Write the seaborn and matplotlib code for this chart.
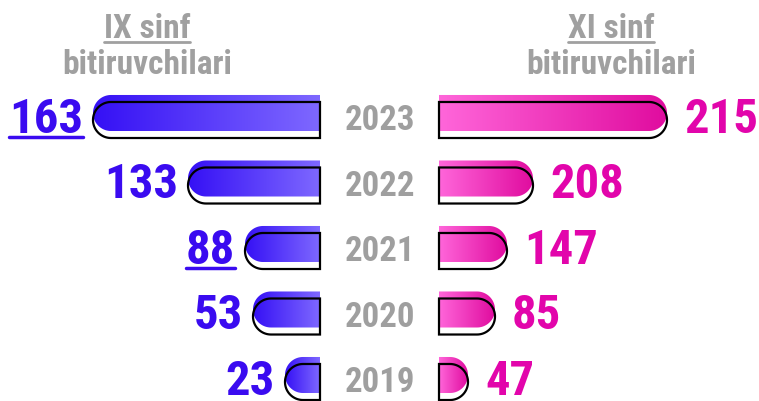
import numpy as np
import pandas as pd
import matplotlib
matplotlib.use("Agg")
import matplotlib.pyplot as plt
import matplotlib.font_manager as fm
from matplotlib.path import Path
from matplotlib.patches import PathPatch
from matplotlib.lines import Line2D
from matplotlib.colors import LinearSegmentedColormap
import seaborn as sns

# ── Data ──────────────────────────────────────
years = ["2023", "2022", "2021", "2020", "2019"]
ix_values = [163, 133, 88, 53, 23]        # IX sinf bitiruvchilari
xi_values = [215, 208, 147, 85, 47]       # XI sinf bitiruvchilari
# drawn bar lengths as they appear in the infographic (not proportional)
ix_length = [227, 132, 75, 67, 35]
xi_length = [228, 94, 68, 56, 29]
ix_underlined = [True, False, True, False, False]

# ── Style ─────────────────────────────────────
BLUE = "#3A0BF0"
PINK = "#E205AB"
GREY = "#9F9F9F"
HEAD = "#A0A0A0"
blue_cmap = LinearSegmentedColormap.from_list("b", ["#3510F5", "#7E68FF"])
pink_cmap = LinearSegmentedColormap.from_list("p", ["#FF66DA", "#E00C9F"])

sns.set_theme(style="white")
names = {f.name for f in fm.fontManager.ttflist}
FONT = next((f for f in ["Roboto Condensed", "Liberation Sans Narrow", "Roboto"] if f in names), "DejaVu Sans")
plt.rcParams["font.family"] = [FONT, "DejaVu Sans"]

GAP = 59.5          # half gap between the two bar columns
OFFSET = 0.107      # outline shift (rows)

fig = plt.figure(figsize=(7.59, 4.01), dpi=100)
ax = fig.add_axes([0, 0, 1, 1])

df = pd.DataFrame({
    "year": years * 2,
    "length": [-l for l in ix_length] + xi_length,
    "side": ["ix"] * len(years) + ["xi"] * len(years),
})
sns.barplot(data=df, x="length", y="year", hue="side", dodge=False,
            width=0.55, ax=ax, legend=False)

ax.set_xlim(-379.5, 379.5)
ax.set_ylim(4.397, -1.725)
ax.axis("off")


def capsule(x0, x1, yc, ry, rx, rounded):
    """Bar path with one semicircular end ('left' or 'right')."""
    rx = min(rx, x1 - x0)
    t = np.linspace(-np.pi / 2, np.pi / 2, 40)
    if rounded == "right":
        cx = x1 - rx
        arc = np.column_stack([cx + rx * np.cos(t), yc + ry * np.sin(t)])
        verts = np.vstack([[x0, yc - ry], arc, [x0, yc + ry], [x0, yc - ry]])
    else:
        cx = x0 + rx
        arc = np.column_stack([cx - rx * np.cos(t), yc - ry * np.sin(t)])
        verts = np.vstack([[x1, yc + ry], arc, [x1, yc - ry], [x1, yc + ry]])
    codes = [Path.MOVETO] + [Path.LINETO] * (len(verts) - 2) + [Path.CLOSEPOLY]
    return Path(verts, codes)


# pixels per data unit to keep the rounded end circular
p0 = ax.transData.transform((0, 0))
p1 = ax.transData.transform((1, 1))
px_x = abs(p1[0] - p0[0])
px_y = abs(p1[1] - p0[1])

grad = np.linspace(0, 1, 256).reshape(1, -1)
for p in list(ax.patches):
    w, h, y0 = p.get_width(), p.get_height(), p.get_y()
    p.set_visible(False)
    if w == 0:
        continue
    yc = y0 + h / 2
    ry = h / 2
    rx = ry * px_y / px_x
    if w < 0:
        x0, x1, side, cmap = -GAP + w, -GAP, "left", blue_cmap
    else:
        x0, x1, side, cmap = GAP, GAP + w, "right", pink_cmap
    fill = PathPatch(capsule(x0, x1, yc, ry, rx, side), facecolor="none",
                     edgecolor="none", zorder=2)
    ax.add_patch(fill)
    im = ax.imshow(grad, extent=[x0, x1, yc + ry, yc - ry], cmap=cmap,
                   aspect="auto", zorder=2, interpolation="bilinear")
    im.set_clip_path(fill)
    ax.add_patch(PathPatch(capsule(x0, x1, yc + OFFSET, ry, rx, side),
                           facecolor="none", edgecolor="black", lw=1.6, zorder=3))

ax.set_xlim(-379.5, 379.5)
ax.set_ylim(4.397, -1.725)

underline = []
for i, year in enumerate(years):
    ax.text(0, i + 0.26, year, ha="center", va="baseline", fontsize=25,
            fontweight="bold", color=GREY)
    t = ax.text(-GAP - ix_length[i] - 10, i + 0.305, str(ix_values[i]),
                ha="right", va="baseline", fontsize=35, fontweight="bold", color=BLUE)
    if ix_underlined[i]:
        underline.append((t, i + 0.305, BLUE, 2.5))
    ax.text(GAP + xi_length[i] + 17, i + 0.305, str(xi_values[i]),
            ha="left", va="baseline", fontsize=35, fontweight="bold", color=PINK)

for x, label in [(-232.5, "IX sinf"), (231.5, "XI sinf")]:
    t = ax.text(x, -1.145, label, ha="center", va="baseline", fontsize=24,
                fontweight="bold", color=HEAD)
    underline.append((t, -1.145, HEAD, 2))
    ax.text(x, -0.595, "bitiruvchilari", ha="center", va="baseline",
            fontsize=24, fontweight="bold", color=HEAD)

# underlines drawn under the measured text extent
fig.canvas.draw()
renderer = fig.canvas.get_renderer()
W, H = fig.bbox.width, fig.bbox.height
for t, yb, color, lw in underline:
    bb = t.get_window_extent(renderer)
    base = ax.transData.transform((0, yb))[1] - 4
    fig.add_artist(Line2D([bb.x0 / W, bb.x1 / W], [base / H, base / H],
                          transform=fig.transFigure, color=color, lw=lw))

fig.savefig("out.png", dpi=100)
